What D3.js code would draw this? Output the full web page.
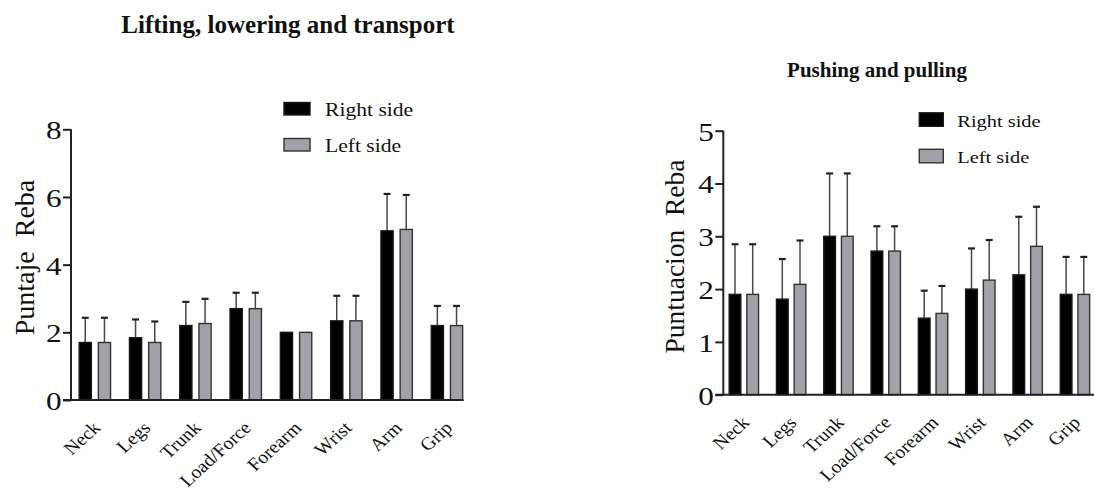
<!DOCTYPE html>
<html>
<head>
<meta charset="utf-8">
<script src="https://cdn.jsdelivr.net/npm/d3@7/dist/d3.min.js"></script>
<style>
  html, body { margin: 0; padding: 0; background: #fff; }
  svg { display: block; }
  text { font-family: "Liberation Serif", "Times New Roman", serif; fill: #111; }
</style>
</head>
<body>
<svg id="fig" width="1094" height="493"></svg>
<script>
// REBA scores by body segment, mean with upper SD bar
const categories = ["Neck", "Legs", "Trunk", "Load/Force", "Forearm", "Wrist", "Arm", "Grip"];
const seriesNames = ["Right side", "Left side"];

// Lifting, lowering and transport
const liftRight   = [1.70, 1.84, 2.20, 2.70, 2.00, 2.34, 5.00, 2.20];
const liftRightSD = [0.73, 0.54, 0.70, 0.47, 0.00, 0.74, 1.09, 0.58];
const liftLeft    = [1.70, 1.70, 2.26, 2.70, 2.00, 2.34, 5.04, 2.20];
const liftLeftSD  = [0.73, 0.62, 0.73, 0.47, 0.00, 0.74, 1.02, 0.58];
const liftTicks   = [0, 2, 4, 6, 8];

// Pushing and pulling
const pushRight   = [1.90, 1.81, 3.00, 2.72, 1.45, 2.00, 2.27, 1.90];
const pushRightSD = [0.95, 0.76, 1.19, 0.47, 0.52, 0.77, 1.10, 0.71];
const pushLeft    = [1.90, 2.09, 3.00, 2.72, 1.54, 2.17, 2.81, 1.90];
const pushLeftSD  = [0.95, 0.83, 1.19, 0.47, 0.52, 0.76, 0.75, 0.71];
const pushTicks   = [0, 1, 2, 3, 4, 5];

const fills   = ["#000000", "#a1a1a7"];
const strokes = ["#1a1a1a", "#333333"];
const SX = 1.2; // horizontal stretch of the lettering
const SERIF = '"Liberation Serif", "Times New Roman", serif';

const svg = d3.select("#fig");

function drawPanel(cfg) {
  const g = svg.append("g");

  const y = d3.scaleLinear().domain([0, cfg.yMax]).range([cfg.y0, cfg.yTop]);
  const x0 = d3.scaleBand().domain(categories).range(cfg.xRange).paddingInner(0).paddingOuter(0);
  const pw = 2 * cfg.bw + cfg.gap;
  const x1 = d3.scaleBand().domain(seriesNames)
    .range([(x0.bandwidth() - pw) / 2, (x0.bandwidth() + pw) / 2])
    .paddingInner(cfg.gap / (cfg.bw + cfg.gap)).paddingOuter(0);

  const rows = categories.map((c, i) => ({
    cat: c,
    vals: [
      { s: seriesNames[0], k: 0, v: cfg.right[i], sd: cfg.rightSD[i] },
      { s: seriesNames[1], k: 1, v: cfg.left[i], sd: cfg.leftSD[i] }
    ]
  }));

  // error bars (upper half only), drawn beneath the bars
  const eb = g.append("g");
  rows.forEach(r => r.vals.forEach(d => {
    if (d.sd <= 0) return;
    const cx = x0(r.cat) + x1(d.s) + x1.bandwidth() / 2;
    eb.append("line").attr("x1", cx).attr("x2", cx)
      .attr("y1", y(d.v)).attr("y2", y(d.v + d.sd))
      .attr("stroke", "#484848").attr("stroke-width", 1.5);
    eb.append("line").attr("x1", cx - 3.5).attr("x2", cx + 3.5)
      .attr("y1", y(d.v + d.sd)).attr("y2", y(d.v + d.sd))
      .attr("stroke", "#222").attr("stroke-width", 2.2);
  }));

  // bars
  const grp = g.append("g").selectAll("g").data(rows).join("g")
    .attr("transform", d => `translate(${x0(d.cat)},0)`);
  grp.selectAll("rect").data(d => d.vals).join("rect")
    .attr("x", d => x1(d.s))
    .attr("width", x1.bandwidth())
    .attr("y", d => y(d.v))
    .attr("height", d => y(0) - y(d.v))
    .attr("fill", d => fills[d.k])
    .attr("stroke", d => strokes[d.k])
    .attr("stroke-width", 1.4);

  // y axis
  const yAxis = g.append("g")
    .attr("transform", `translate(${cfg.axisX},0)`)
    .call(d3.axisLeft(y).tickValues(cfg.ticks).tickSize(8).tickPadding(0).tickFormat(d3.format("d")));
  yAxis.attr("font-family", null).attr("font-size", null);
  yAxis.select(".domain").attr("stroke", "#222").attr("stroke-width", 2)
    .attr("d", `M0,${cfg.yTop}V${cfg.y0}`);
  yAxis.selectAll(".tick line").attr("stroke", "#222").attr("stroke-width", 2);
  yAxis.selectAll(".tick text")
    .attr("x", 0).attr("dy", "0.36em")
    .attr("transform", `translate(-9.5,0) scale(${SX},1)`)
    .style("font-family", SERIF)
    .style("font-size", "26px").attr("fill", "#111");

  // x axis baseline with rotated category labels
  const xAxis = g.append("g")
    .attr("transform", `translate(0,${cfg.y0})`)
    .call(d3.axisBottom(x0).tickSize(0).tickPadding(0));
  xAxis.attr("font-family", null).attr("font-size", null);
  const lastBarEnd = x0(categories[categories.length - 1]) + x1(seriesNames[1]) + x1.bandwidth();
  xAxis.select(".domain").attr("stroke", "#222").attr("stroke-width", 2)
    .attr("d", `M${cfg.axisX - 8},0H${lastBarEnd + cfg.axisTail}`);
  xAxis.selectAll(".tick text")
    .attr("x", 0).attr("y", 0).attr("dy", 0)
    .attr("text-anchor", "end")
    .attr("transform", `translate(6.5,29) scale(1.1,1) rotate(-45)`)
    .style("font-family", SERIF)
    .style("font-size", "18px").attr("fill", "#111");

  // y title
  g.append("text")
    .attr("transform", `translate(${cfg.yTitleX},${cfg.yTitleY}) rotate(-90)`)
    .attr("text-anchor", "middle")
    .style("white-space", "pre")
    .style("font-family", SERIF)
    .style("font-size", cfg.yTitleSize + "px")
    .text(cfg.yTitle);

  // panel title
  g.append("text")
    .attr("x", cfg.titleX).attr("y", cfg.titleY)
    .attr("text-anchor", "middle")
    .style("font-family", SERIF)
    .style("font-weight", "bold")
    .style("font-size", cfg.titleSize + "px")
    .text(cfg.title);

  // legend
  const lg = g.append("g");
  seriesNames.forEach((s, k) => {
    const ty = cfg.legY[k];
    lg.append("rect")
      .attr("x", cfg.legX).attr("y", ty - cfg.legH)
      .attr("width", cfg.legW).attr("height", cfg.legH)
      .attr("fill", fills[k]).attr("stroke", strokes[k]).attr("stroke-width", 1.4);
    lg.append("text")
      .attr("transform", `translate(${cfg.legX + cfg.legW + cfg.legGap},${ty + 0.5}) scale(${SX},1)`)
      .style("font-family", SERIF)
      .style("font-size", cfg.legSize + "px")
      .text(s);
  });
}

drawPanel({
  title: "Lifting, lowering and transport", titleX: 288, titleY: 33, titleSize: 25,
  yTitle: "Puntaje  Reba", yTitleX: 33.5, yTitleY: 257.5, yTitleSize: 28,
  right: liftRight, rightSD: liftRightSD, left: liftLeft, leftSD: liftLeftSD,
  ticks: liftTicks, yMax: 8, y0: 400, yTop: 129.3,
  axisX: 71, xRange: [69.7, 472.1], bw: 12.2, gap: 7, axisTail: 1,
  legX: 284, legW: 26, legH: 12.5, legGap: 15, legY: [115, 151], legSize: 18
});

drawPanel({
  title: "Pushing and pulling", titleX: 877, titleY: 77, titleSize: 21,
  yTitle: "Puntuacion  Reba", yTitleX: 683.5, yTitleY: 256.5, yTitleSize: 27.5,
  right: pushRight, rightSD: pushRightSD, left: pushLeft, leftSD: pushLeftSD,
  ticks: pushTicks, yMax: 5, y0: 394.7, yTop: 130.7,
  axisX: 723.3, xRange: [720.2, 1098.6], bw: 11.7, gap: 6, axisTail: 6,
  legX: 919.3, legW: 24, legH: 13.5, legGap: 14, legY: [126.3, 162.8], legSize: 17
});
</script>
</body>
</html>
